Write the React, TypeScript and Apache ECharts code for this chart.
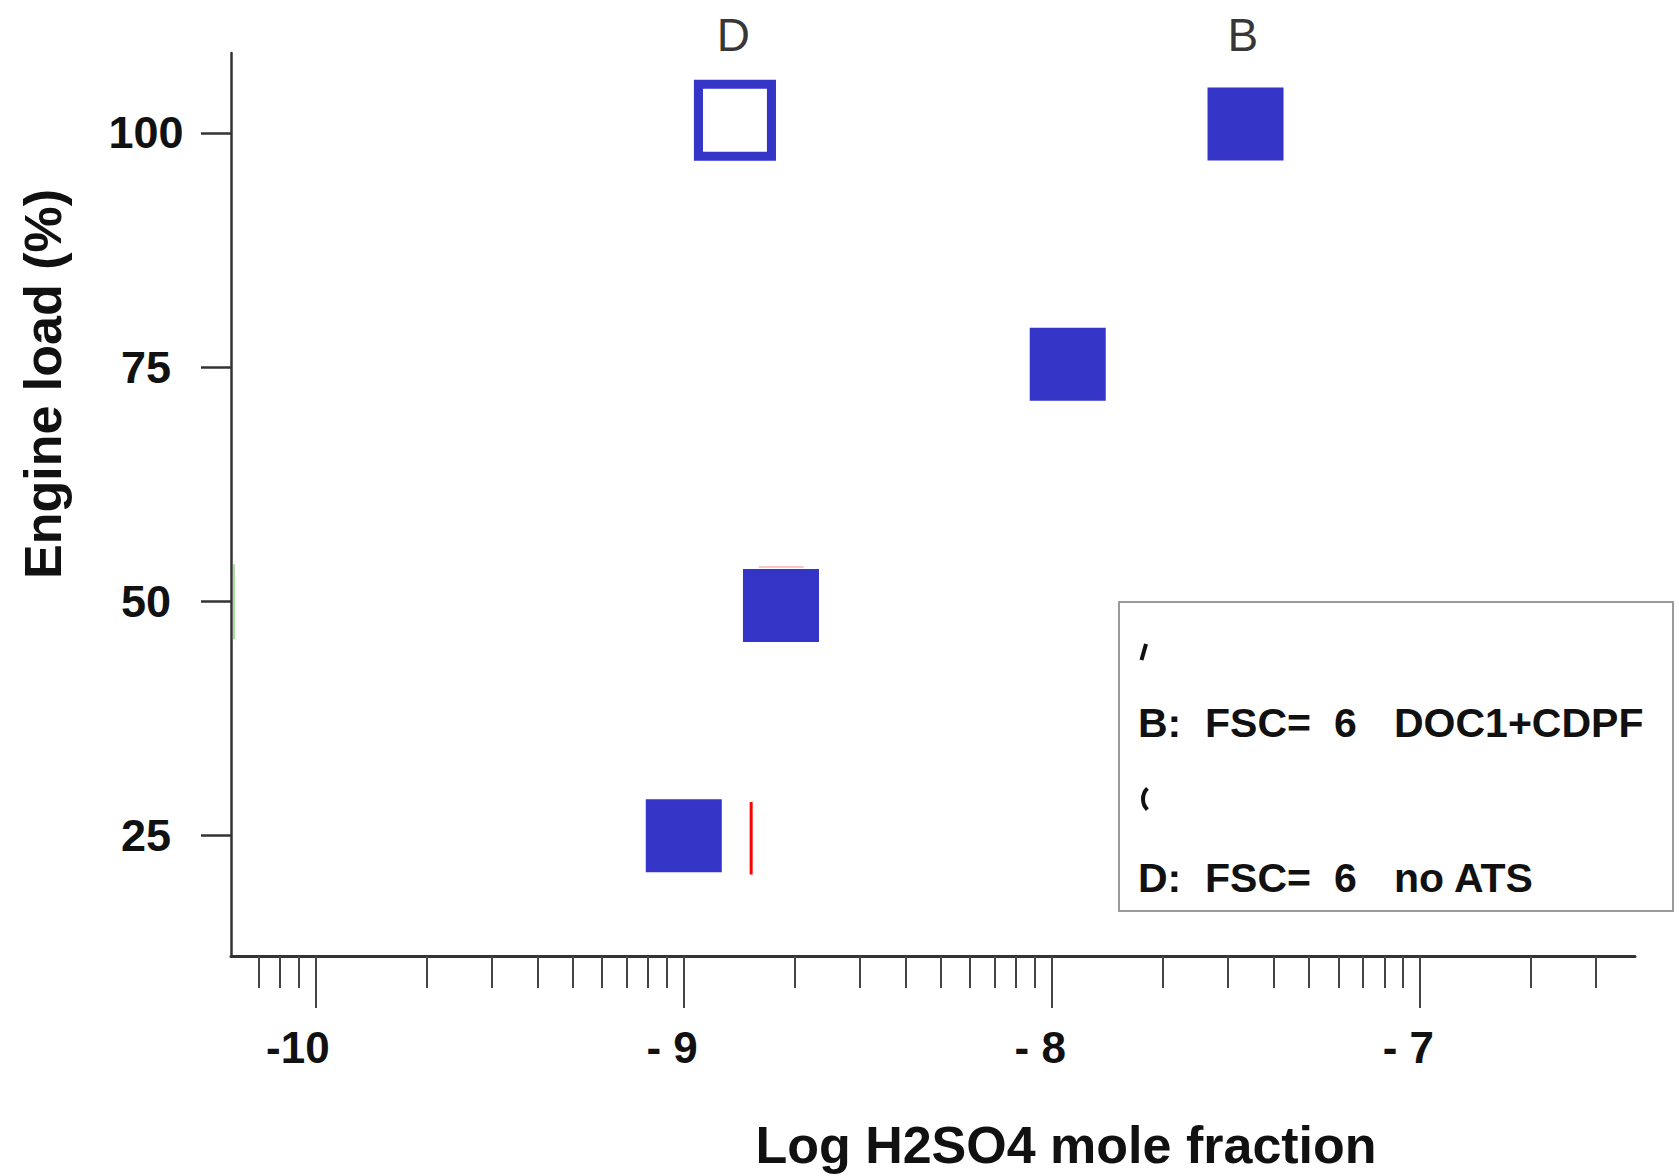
import React, { useEffect, useRef } from "react";
import * as echarts from "echarts";

const FONT = "'Liberation Sans', Arial, Helvetica, sans-serif";

// Axis ranges: x = log10(H2SO4 mole fraction), y = engine load (%)
const xRange = [-10.23, -6.416];
const yRange = [12.11, 108.54];

// x axis ticks (major decades, minor 2..9 multiples of each decade)
const xMajorTicks = [-10, -9, -8, -7];
const xTickLabels = ["-10", "- 9", "- 8", "- 7"];
const minorMultipliers = [2, 3, 4, 5, 6, 7, 8, 9];
const minorDecades = [-11, -10, -9, -8, -7];
const firstMinorTick = -10.16; // 7e-11 is the first minor tick drawn

// y axis ticks
const yTicks = [25, 50, 75, 100];
const yTickLabels = ["25", "50", "75", "100"];

// Series B: FSC = 6, DOC1+CDPF (filled squares)
const bLogX = [-9.0, -8.736, -7.957, -7.474];
const bLoad = [24.95, 49.53, 75.3, 100.96];

// Series D: FSC = 6, no ATS (open square)
const dLogX = [-8.861];
const dLoad = [101.36];

// Letters above the 100 % row
const letterNames = ["D", "B"];
const letterLogX = [-8.865, -7.481];
const letterLoad = [110.5, 110.5];

// Stray marks visible in the figure
const redLineX = [-8.817, -8.817];
const redLineY = [28.56, 20.8];
const pinkLineX = [-8.796, -8.674];
const pinkLineY = [53.65, 53.65];
const greenLineX = [-10.222, -10.222];
const greenLineY = [53.94, 45.93];

// Legend box rows
const legendKeys = ["B:", "D:"];
const legendFSCLabel = ["FSC=", "FSC="];
const legendFSC = ["6", "6"];
const legendATS = ["DOC1+CDPF", "no ATS"];

const BLUE = "#3434c6";

export default function App() {
  const ref = useRef<HTMLDivElement>(null);

  useEffect(() => {
    if (!ref.current) return;
    const chart = echarts.init(ref.current, null, { renderer: "svg" });

    const minorTicks = minorDecades
      .flatMap((d) => minorMultipliers.map((m) => d + Math.log10(m)))
      .filter((v) => v > firstMinorTick && v < xRange[1]);

    const pxPerUnit = (1635 - 231) / (xRange[1] - xRange[0]);
    const labelShift = 14 / pxPerUnit;

    const rowY = [723, 878];
    const colX = [1138, 1205, 1334, 1394];
    const legendTexts: any[] = [];
    legendKeys.forEach((k, i) => {
      const parts = [k, legendFSCLabel[i], legendFSC[i], legendATS[i]];
      parts.forEach((p, j) => {
        legendTexts.push({
          type: "text",
          x: colX[j],
          y: rowY[i],
          z: 20,
          silent: true,
          style: {
            text: p,
            fontSize: 41,
            fontWeight: "bold",
            fontFamily: FONT,
            fill: "#111",
            align: "left",
            verticalAlign: "middle",
          },
        });
      });
    });

    const option: any = {
      animation: false,
      backgroundColor: "#ffffff",
      grid: { left: 231, right: 44, top: 53, bottom: 220, containLabel: false },
      xAxis: [
        {
          type: "value",
          min: xRange[0],
          max: xRange[1],
          position: "bottom",
          axisLine: { show: true, onZero: false, lineStyle: { color: "#333", width: 3 } },
          axisTick: {
            show: true,
            customValues: xMajorTicks,
            length: 52,
            lineStyle: { color: "#444", width: 2 },
          },
          axisLabel: { show: false },
          splitLine: { show: false },
        },
        {
          type: "value",
          min: xRange[0],
          max: xRange[1],
          position: "bottom",
          offset: 0,
          axisLine: { show: false, onZero: false },
          axisTick: {
            show: true,
            customValues: minorTicks,
            length: 32,
            lineStyle: { color: "#444", width: 2 },
          },
          axisLabel: { show: false },
          splitLine: { show: false },
        },
        {
          type: "value",
          min: xRange[0] - labelShift,
          max: xRange[1] - labelShift,
          position: "bottom",
          offset: 0,
          axisLine: { show: false, onZero: false },
          axisTick: { show: false },
          axisLabel: {
            show: true,
            customValues: xMajorTicks,
            formatter: (v: number) => xTickLabels[xMajorTicks.indexOf(Math.round(v))] ?? "",
            align: "right",
            margin: 69,
            fontSize: 44,
            lineHeight: 44,
            fontWeight: "bold",
            fontFamily: FONT,
            color: "#111",
          },
          splitLine: { show: false },
        },
      ],
      yAxis: {
        type: "value",
        min: yRange[0],
        max: yRange[1],
        axisLine: { show: true, onZero: false, lineStyle: { color: "#333", width: 2.5 } },
        axisTick: {
          show: true,
          customValues: yTicks,
          length: 30,
          lineStyle: { color: "#333", width: 2.5 },
        },
        axisLabel: {
          show: true,
          customValues: yTicks,
          formatter: (v: number) => yTickLabels[yTicks.indexOf(Math.round(v))] ?? "",
          align: "center",
          margin: 85,
          fontSize: 45,
          fontWeight: "bold",
          fontFamily: FONT,
          color: "#111",
        },
        splitLine: { show: false },
      },
      series: [
        {
          type: "line",
          name: "green",
          data: greenLineX.map((x, i) => [x, greenLineY[i]]),
          symbol: "none",
          silent: true,
          lineStyle: { color: "#a6dca0", width: 2 },
          z: 1,
        },
        {
          type: "line",
          name: "pink",
          data: pinkLineX.map((x, i) => [x, pinkLineY[i]]),
          symbol: "none",
          silent: true,
          lineStyle: { color: "#ffc4c4", width: 2 },
          z: 1,
        },
        {
          type: "line",
          name: "red",
          data: redLineX.map((x, i) => [x, redLineY[i]]),
          symbol: "none",
          silent: true,
          lineStyle: { color: "#ff0000", width: 3 },
          z: 3,
        },
        {
          type: "scatter",
          name: "B",
          data: bLogX.map((x, i) => [x, bLoad[i]]),
          symbol: "rect",
          symbolSize: [76, 73],
          itemStyle: { color: BLUE, opacity: 1 },
          silent: true,
          z: 4,
        },
        {
          type: "scatter",
          name: "D",
          data: dLogX.map((x, i) => [x, dLoad[i]]),
          symbol: "rect",
          symbolSize: [73, 72],
          itemStyle: { color: "#ffffff", borderColor: BLUE, borderWidth: 9, opacity: 1 },
          silent: true,
          z: 4,
        },
        {
          type: "scatter",
          name: "letters",
          data: letterNames.map((n, i) => ({ name: n, value: [letterLogX[i], letterLoad[i]] })),
          symbolSize: 0,
          clip: false,
          silent: true,
          label: {
            show: true,
            position: "inside",
            formatter: "{b}",
            fontSize: 46,
            fontFamily: FONT,
            color: "#000",
          },
          z: 5,
        },
      ],
      graphic: [
        {
          type: "rect",
          silent: true,
          z: 10,
          shape: { x: 1119, y: 602, width: 554, height: 309 },
          style: { fill: "#ffffff", stroke: "#9a9a9a", lineWidth: 2 },
        },
        ...legendTexts,
        {
          type: "polyline",
          silent: true,
          z: 20,
          shape: { points: [[1141.5, 660], [1146, 644]] },
          style: { stroke: "#111", lineWidth: 4, fill: null },
        },
        {
          type: "arc",
          silent: true,
          z: 20,
          shape: { cx: 1158, cy: 799, r: 15, startAngle: Math.PI * 0.75, endAngle: Math.PI * 1.25 },
          style: { stroke: "#111", lineWidth: 4, fill: null },
        },
        {
          type: "text",
          silent: true,
          x: 43,
          y: 384,
          rotation: Math.PI / 2,
          style: {
            text: "Engine load (%)",
            fontSize: 52,
            fontWeight: "bold",
            fontFamily: FONT,
            fill: "#111",
            align: "center",
            verticalAlign: "middle",
          },
        },
        {
          type: "text",
          silent: true,
          x: 1066,
          y: 1145,
          style: {
            text: "Log H2SO4 mole fraction",
            fontSize: 52,
            fontWeight: "bold",
            fontFamily: FONT,
            fill: "#111",
            align: "center",
            verticalAlign: "middle",
          },
        },
      ],
    };

    chart.setOption(option);
    return () => chart.dispose();
  }, []);

  return (
    <div
      ref={ref}
      style={{ position: "fixed", left: 0, top: 0, width: 1679, height: 1176, background: "#fff" }}
    />
  );
}
